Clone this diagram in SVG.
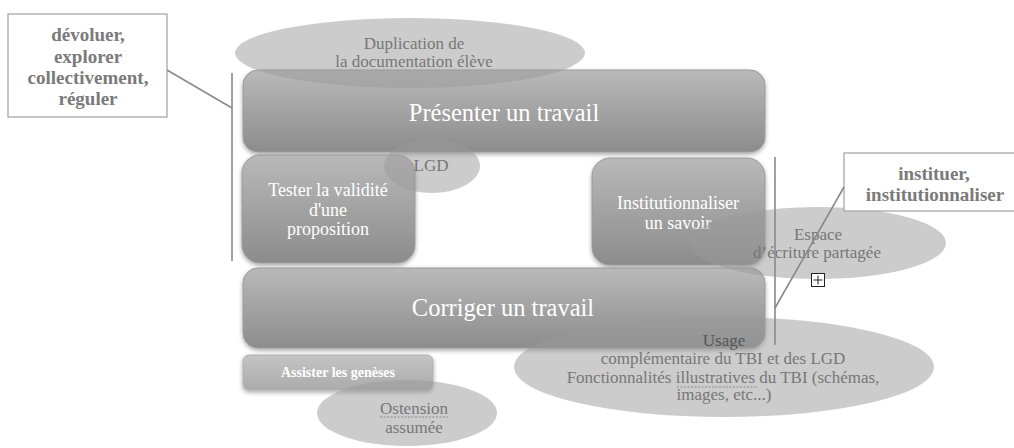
<svg xmlns="http://www.w3.org/2000/svg" width="1014" height="448" viewBox="0 0 1014 448" font-family="'Liberation Serif', 'DejaVu Serif', serif">
<style>
text{font-family:'Liberation Serif','DejaVu Serif',serif;text-anchor:middle;}
.box{fill:url(#g);stroke:#9a9a9a;stroke-width:1;filter:url(#sh);}
.box2{fill:url(#g2);stroke:#b0b0b0;stroke-width:1;filter:url(#sh);}
.bt{fill:#ffffff;}
.ell{fill:#999999;fill-opacity:0.5;}
.et{fill:#777777;font-size:17px;}
.note{fill:#ffffff;stroke:#a0a0a0;stroke-width:1.2;}
.nt{fill:#7a7a7a;font-size:19px;font-weight:bold;}
.ln{stroke:#8a8a8a;stroke-width:1.6;fill:none;}
.dots{stroke:#8a8a8a;stroke-width:1;stroke-dasharray:2,1.5;}
</style>
<defs>
<linearGradient id="g" x1="0" y1="0" x2="0" y2="1">
<stop offset="0" stop-color="#b9b9b9"/>
<stop offset="1" stop-color="#8c8c8c"/>
</linearGradient>
<linearGradient id="g2" x1="0" y1="0" x2="0" y2="1">
<stop offset="0" stop-color="#c4c4c4"/>
<stop offset="1" stop-color="#ababab"/>
</linearGradient>
<filter id="sh" x="-10%" y="-10%" width="120%" height="130%">
<feDropShadow dx="0" dy="2" stdDeviation="2" flood-color="#000" flood-opacity="0.35"/>
</filter>
</defs>
<rect width="1014" height="448" fill="#ffffff"/>

<g id="presenter">
<rect class="box" x="243" y="70" width="522" height="82" rx="15"/>
<text class="bt" x="504" y="121" font-size="24.5">Présenter un travail</text>
</g>
<g id="tester">
<rect class="box" x="242" y="155" width="173" height="108" rx="18"/>
<text class="bt" x="328" y="196" font-size="18">Tester la validité</text>
<text class="bt" x="328" y="216" font-size="18">d'une</text>
<text class="bt" x="328" y="235" font-size="18">proposition</text>
</g>
<g id="institutionnaliser">
<rect class="box" x="592" y="158" width="173" height="107" rx="18"/>
<text class="bt" x="678" y="209" font-size="18">Institutionnaliser</text>
<text class="bt" x="678" y="229" font-size="18">un savoir</text>
</g>
<g id="corriger">
<rect class="box" x="243" y="268" width="522" height="80" rx="15"/>
<text class="bt" x="503" y="316" font-size="24.5">Corriger un travail</text>
</g>
<g id="assister">
<rect class="box2" x="243" y="355" width="190" height="35" rx="6"/>
<text class="bt" x="338" y="377" font-size="14" font-weight="bold">Assister les genèses</text>
</g>

<g id="duplication">
<ellipse class="ell" cx="410" cy="53" rx="175" ry="35"/>
<text class="et" x="414" y="49">Duplication de</text>
<text class="et" x="414" y="67">la documentation élève</text>
</g>
<g id="lgd">
<ellipse class="ell" cx="432" cy="166" rx="48" ry="27"/>
<text class="et" x="431" y="171" font-size="18">LGD</text>
</g>
<g id="espace">
<ellipse class="ell" cx="818" cy="243" rx="128" ry="36"/>
<text class="et" x="818" y="240">Espace</text>
<text class="et" x="817" y="258">d’écriture partagée</text>
</g>
<g id="usage">
<ellipse class="ell" cx="724" cy="367" rx="210" ry="50"/>
<text class="et" x="724" y="346" style="fill:#555555">Usage</text>
<text class="et" x="723" y="364">complémentaire du TBI et des LGD</text>
<text class="et" x="723" y="383">Fonctionnalités illustratives du TBI (schémas,</text>
<text class="et" x="724" y="400">images, etc...)</text>
<line class="dots" x1="677" y1="387" x2="758" y2="387"/>
</g>
<g id="ostension">
<ellipse class="ell" cx="407" cy="413" rx="90" ry="33"/>
<text class="et" x="414" y="414" font-size="18">Ostension</text>
<text class="et" x="414" y="433" font-size="18">assumée</text>
<line class="dots" x1="380" y1="417" x2="448" y2="417"/>
</g>

<g id="devoluer">
<rect class="note" x="8" y="14" width="159" height="103"/>
<text class="nt" x="88" y="41">dévoluer,</text>
<text class="nt" x="88" y="63">explorer</text>
<text class="nt" x="88" y="84">collectivement,</text>
<text class="nt" x="88" y="105">réguler</text>
</g>
<g id="instituer">
<rect class="note" x="844" y="153" width="180" height="58"/>
<text class="nt" x="934" y="180">instituer,</text>
<text class="nt" x="935" y="201">institutionnaliser</text>
</g>

<g id="connectors">
<line class="ln" x1="232" y1="73" x2="232" y2="261"/>
<line class="ln" x1="167" y1="70" x2="232" y2="108"/>
<line class="ln" x1="775" y1="157" x2="775" y2="345"/>
<line class="ln" x1="844" y1="187" x2="775" y2="308"/>
</g>

<g id="icon">
<rect x="811.5" y="273.5" width="13" height="13" fill="#ffffff" stroke="#222222" stroke-width="1"/>
<line x1="818" y1="275.5" x2="818" y2="284.5" stroke="#222222" stroke-width="1"/>
<line x1="813.5" y1="280" x2="822.5" y2="280" stroke="#222222" stroke-width="1"/>
</g>
</svg>
